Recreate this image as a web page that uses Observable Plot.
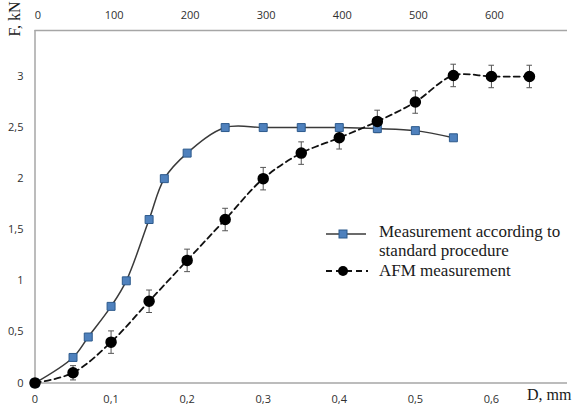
<!DOCTYPE html>
<html>
<head>
<meta charset="utf-8">
<script src="https://cdn.jsdelivr.net/npm/d3@7"></script>
<script src="https://cdn.jsdelivr.net/npm/@observablehq/plot@0.6"></script>
<style>
  html, body { margin: 0; padding: 0; background: #fff; }
  #wrap { position: relative; width: 574px; height: 410px; overflow: hidden; }
  #chart svg { display: block; }
  .serif { font-family: "Liberation Serif", "DejaVu Serif", serif; color: #1a1a1a; position: absolute; white-space: nowrap; }
</style>
</head>
<body>
<div id="wrap">
  <div id="chart"></div>
  <div class="serif" style="left:-5px; top:10px; width:40px; height:18px; font-size:16px; line-height:18px; text-align:center; transform:rotate(-90deg);">F, kN</div>
  <div class="serif" style="left:527px; top:386px; font-size:16px; line-height:18px;">D, mm</div>
  <div id="legend"></div>
</div>
<script>
// ---- data ----
const stdD = [0, 0.05, 0.07, 0.10, 0.12, 0.15, 0.17, 0.20, 0.25, 0.30, 0.35, 0.40, 0.45, 0.50, 0.55];
const stdF = [0, 0.25, 0.45, 0.75, 1.00, 1.60, 2.00, 2.25, 2.50, 2.50, 2.50, 2.50, 2.49, 2.47, 2.40];

const afmD   = [0, 0.05, 0.10, 0.15, 0.20, 0.25, 0.30, 0.35, 0.40, 0.45, 0.50, 0.55, 0.60, 0.65];
const afmF   = [0, 0.10, 0.40, 0.80, 1.20, 1.60, 2.00, 2.25, 2.40, 2.56, 2.75, 3.01, 3.00, 3.00];
const afmErr = [0, 0.07, 0.11, 0.11, 0.11, 0.11, 0.11, 0.11, 0.11, 0.11, 0.11, 0.11, 0.11, 0.11];

const xTicks = [0, 0.1, 0.2, 0.3, 0.4, 0.5, 0.6];
const topTickLabels = ["0", "100", "200", "300", "400", "500", "600"];
const yTicks = [0, 0.5, 1, 1.5, 2, 2.5, 3];
const xMax = 0.7;
const yMax = 3.45;

const seriesNames = ["Measurement according to standard procedure", "AFM measurement"];

// ---- tables ----
const std = stdD.map((d, i) => ({x: d, y: stdF[i]}));
const afm = afmD.map((d, i) => ({x: d, y: afmF[i], e: afmErr[i]}));
const afmBars = afm.filter(d => d.e > 0);
const comma = d => String(d).replace(".", ",");

const blueFill = "#4f81bd", blueStroke = "#2d5a8c";
const axisColor = "#a6a6a6";

const chart = Plot.plot({
  width: 574,
  height: 410,
  marginLeft: 34.5,
  marginRight: 7,
  marginTop: 30,
  marginBottom: 27.5,
  x: {domain: [0, xMax]},
  y: {domain: [0, yMax]},
  style: {fontFamily: "'Open Sans', sans-serif", fontSize: "11px", color: "#303030", background: "#fff"},
  marks: [
    Plot.ruleY([yMax], {stroke: axisColor, strokeWidth: 1.5}),
    Plot.ruleY([0], {stroke: axisColor, strokeWidth: 1.5}),
    Plot.ruleX([0], {stroke: axisColor, strokeWidth: 1.5}),
    Plot.axisX({anchor: "bottom", ticks: xTicks, tickFormat: comma, tickSize: 0, tickPadding: 12.5, label: null}),
    Plot.axisX({anchor: "top", ticks: xTicks, tickFormat: (d, i) => topTickLabels[i], tickSize: 0, tickPadding: 12, dx: 3, label: null}),
    Plot.axisY({anchor: "left", ticks: yTicks, tickFormat: comma, tickSize: 0, tickPadding: 11.5, label: null}),
    Plot.line(std, {x: "x", y: "y", curve: "catmull-rom", stroke: "#3a3a3a", strokeWidth: 1.5}),
    Plot.line(afm, {x: "x", y: "y", curve: "catmull-rom", stroke: "#111", strokeWidth: 1.8, strokeDasharray: "6,4"}),
    Plot.link(afmBars, {x1: "x", x2: "x", y1: d => d.y - d.e, y2: d => d.y + d.e, stroke: "#555", strokeWidth: 1, markerStart: "tick-x", markerEnd: "tick-x"}),
    Plot.dot(std, {x: "x", y: "y", symbol: "square", r: 4.5, fill: blueFill, stroke: blueStroke, strokeWidth: 1}),
    Plot.dot(afm, {x: "x", y: "y", r: 5, fill: "#000", stroke: "#000"})
  ]
});
document.getElementById("chart").appendChild(chart);

// ---- legend (HTML overlay) ----
const legend = document.getElementById("legend");
legend.innerHTML = `
  <svg style="position:absolute; left:324px; top:226px;" width="46" height="16">
    <line x1="2" y1="8" x2="42" y2="8" stroke="#3a3a3a" stroke-width="1.5"/>
    <rect x="15" y="4" width="8" height="8" fill="${blueFill}" stroke="${blueStroke}" stroke-width="1"/>
  </svg>
  <svg style="position:absolute; left:324px; top:263px;" width="46" height="16">
    <line x1="2" y1="8" x2="44" y2="8" stroke="#111" stroke-width="1.8" stroke-dasharray="6,4"/>
    <circle cx="19" cy="8" r="5" fill="#000"/>
  </svg>
  <div class="serif" style="left:379px; top:222px; font-size:17px; line-height:19px;">Measurement according to<br>standard procedure</div>
  <div class="serif" style="left:379px; top:261px; font-size:17px; line-height:19px;">${seriesNames[1]}</div>
`;
</script>
</body>
</html>
